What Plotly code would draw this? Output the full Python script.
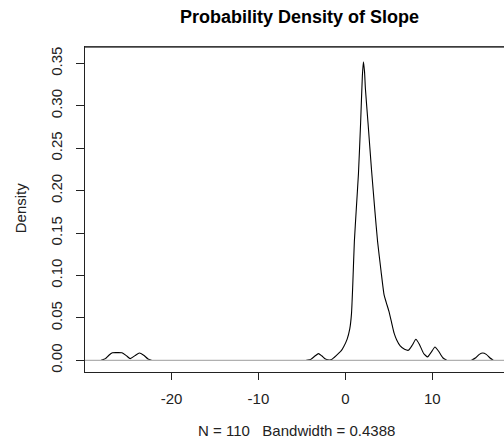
import plotly.graph_objects as go

# Kernel density estimate of slope;
# None marks stretches where the density is ~0 (hidden under the zero line)
slope_x = [-28.1, -27.6, -27.2, -26.8, -26.3, -25.7, -25.2, -24.75, -24.2, -23.7, -23.2, -22.7, -22.3, None,
           -4.5, -4.0, -3.5, -3.1, -2.7, -2.3, -2.0, -1.6, -1.0, -0.5, -0.2, 0.2, 0.5, 0.7, 0.85, 1.03, 1.25,
           1.5, 1.75, 1.95, 2.07, 2.2, 2.3, 2.6, 3.0, 3.4, 3.7, 4.1, 4.45, 4.7, 5.0, 5.3, 5.6, 5.9,
           6.3, 6.8, 7.25, 7.7, 8.1, 8.5, 9.0, 9.45, 9.9, 10.3, 10.7, 11.2, 11.65, None,
           14.5, 15.0, 15.4, 15.8, 16.2, 16.6, 17.0]
density = [0.0, 0.002, 0.006, 0.0088, 0.009, 0.0088, 0.0055, 0.002, 0.0055, 0.0086, 0.006, 0.0015, 0.0, None,
           0.0, 0.001, 0.005, 0.0079, 0.005, 0.0015, 0.0005, 0.0008, 0.006, 0.011, 0.016, 0.025, 0.037, 0.055, 0.09, 0.14, 0.178,
           0.22, 0.28, 0.335, 0.352, 0.34, 0.32, 0.28, 0.225, 0.175, 0.14, 0.105, 0.077, 0.068, 0.058, 0.045, 0.032, 0.024,
           0.017, 0.013, 0.0118, 0.018, 0.0248, 0.019, 0.008, 0.004, 0.01, 0.0157, 0.011, 0.003, 0.0, None,
           0.0, 0.003, 0.007, 0.0086, 0.007, 0.003, 0.0]

x_ticks = [-20, -10, 0, 10]
y_ticks = [0.00, 0.05, 0.10, 0.15, 0.20, 0.25, 0.30, 0.35]
x_range = [-29.95, 18.24]
y_range = [-0.0138, 0.3693]

title_text = "Probability Density of Slope"
x_label = "N = 110\u00a0\u00a0\u00a0Bandwidth = 0.4388"
y_label = "Density"

FONT = "Liberation Sans, Arial, sans-serif"

fig = go.Figure()
fig.add_trace(go.Scatter(x=slope_x, y=density, mode="lines", connectgaps=False,
                         line=dict(color="black", width=1.1, shape="spline", smoothing=0.5),
                         hoverinfo="skip", showlegend=False))
# zero line (drawn over the curve as in R)
fig.add_trace(go.Scatter(x=x_range, y=[0, 0], mode="lines",
                         line=dict(color="#b0b0b0", width=1.2),
                         hoverinfo="skip", showlegend=False))

fig.update_layout(
    width=504, height=443,
    margin=dict(l=85, r=0, t=47, b=71),
    paper_bgcolor="white", plot_bgcolor="white",
    font=dict(family=FONT, size=15, color="#222"),
    xaxis=dict(range=x_range, tickvals=x_ticks, ticktext=[str(v) for v in x_ticks],
               showgrid=False, zeroline=False, showline=True, mirror=True,
               linecolor="#222", linewidth=1, ticks="outside", ticklen=7, tickcolor="#222",
               tickfont=dict(size=15, color="#222"), ticklabelstandoff=6),
    yaxis=dict(range=y_range, tickvals=y_ticks, ticktext=[f"{v:.2f}" for v in y_ticks],
               showgrid=False, zeroline=False, showline=True, mirror=False,
               linecolor="#222", linewidth=1, ticks="outside", ticklen=8, tickcolor="#222",
               tickangle=-90, tickfont=dict(size=15, color="#222"), ticklabelstandoff=8),
    shapes=[dict(type="line", xref="paper", yref="paper", x0=0, x1=1, y0=1, y1=1,
                 line=dict(color="#444", width=1.5))],
    annotations=[
        dict(text=f"<b>{title_text}</b>", xref="paper", yref="paper", x=0.5124, y=1.0909,
             xanchor="center", yanchor="middle", showarrow=False,
             font=dict(size=18, color="black", family=FONT)),
        dict(text=x_label, xref="paper", yref="paper", x=0.5036, y=-0.1796,
             xanchor="center", yanchor="middle", showarrow=False,
             font=dict(size=15, color="#222", family=FONT)),
        dict(text=y_label, xref="paper", yref="paper", x=-0.155, y=0.504, textangle=-90,
             xanchor="center", yanchor="middle", showarrow=False,
             font=dict(size=15, color="#222", family=FONT)),
    ],
)

fig.write_html("out.html", config={"displayModeBar": False},
               post_script="document.body.style.margin='0';document.body.style.padding='0';")
